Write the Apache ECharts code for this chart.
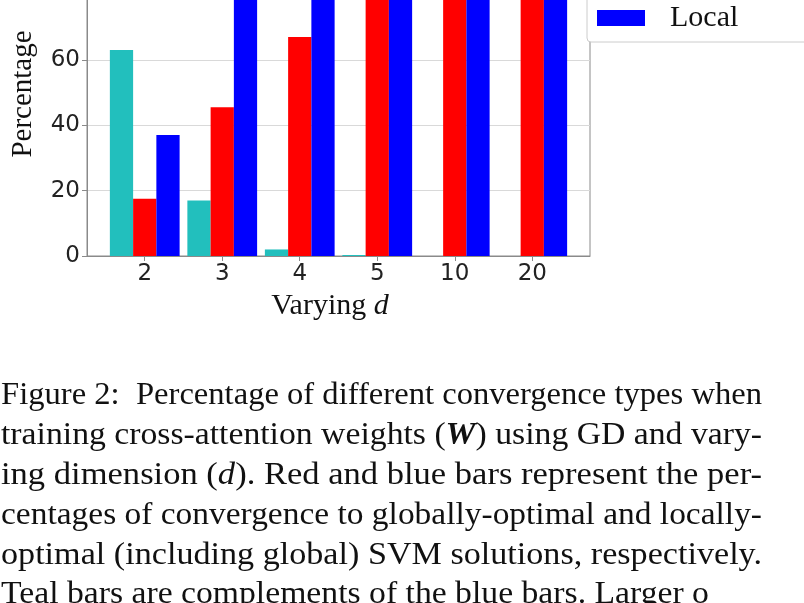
<!DOCTYPE html>
<html>
<head>
<meta charset="utf-8">
<script src="https://cdn.jsdelivr.net/npm/echarts@6/dist/echarts.min.js"></script>
<style>
html,body{margin:0;padding:0;background:#fff;}
#chart{width:804px;height:603px;}
</style>
</head>
<body>
<div id="chart"></div>
<script>
// ---- data ----
const categories = ['2', '3', '4', '5', '10', '20'];
const seriesNames = ['Not Local', 'Global', 'Local'];
const notLocalValues = [63, 17, 2, 0.3, 0, 0];
const globalValues = [17.5, 45.5, 67, 79, 96, 99];
const localValues = [37, 83, 98, 99.7, 100, 100];
const yTicks = [0, 20, 40, 60, 80, 100];
const yAxisTitle = 'Percentage';
const captionLines = [
  'Figure 2:  Percentage of different convergence types when',
  'training cross-attention weights ({b|W}) using GD and vary-',
  'ing dimension ({i|d}). Red and blue bars represent the per-',
  'centages of convergence to globally-optimal and locally-',
  'optimal (including global) SVM solutions, respectively.',
  'Teal bars are complements of the blue bars. Larger o'
];

const colors = ['#22bfbd', '#ff0000', '#0000ff'];
const sans = 'DejaVu Sans';
const serif = 'Liberation Serif';

const chart = echarts.init(document.getElementById('chart'), null, {renderer: 'canvas'});

function toPairs(arr) { return arr.map((v, i) => [i, v]); }
const seriesData = [notLocalValues, globalValues, localValues];

// caption measurement for justified lines
const ctx = document.createElement('canvas').getContext('2d');
const capSize = 32;
function measureLine(line) {
  let w = 0;
  const re = /\{(\w)\|([^}]*)\}/g;
  let last = 0, m;
  const parts = [];
  while ((m = re.exec(line)) !== null) {
    if (m.index > last) parts.push(['n', line.slice(last, m.index)]);
    parts.push([m[1], m[2]]);
    last = re.lastIndex;
  }
  if (last < line.length) parts.push(['n', line.slice(last)]);
  parts.forEach(([k, t]) => {
    const st = k === 'b' ? 'italic bold ' : (k === 'i' ? 'italic ' : '');
    ctx.font = st + capSize + 'px "' + serif + '"';
    w += ctx.measureText(t).width;
  });
  return w;
}
const capTop = 396, capStep = 39.8, capWidth = 761;
const scales = captionLines.map(l => capWidth / measureLine(l));
const avgScale = scales.slice(0, 5).reduce((a, b) => a + b, 0) / 5;
const captionGraphics = captionLines.map((line, i) => ({
  type: 'text',
  x: 1,
  y: capTop + i * capStep,
  scaleX: i < 5 ? scales[i] : avgScale,
  style: {
    text: line,
    x: 0, y: 0,
    fontFamily: serif,
    fontSize: capSize,
    fill: '#111',
    verticalAlign: 'middle',
    align: 'left',
    rich: {
      b: {fontFamily: serif, fontSize: capSize, fontWeight: 'bold', fontStyle: 'italic', fill: '#111'},
      i: {fontFamily: serif, fontSize: capSize, fontStyle: 'italic', fill: '#111'}
    }
  }
}));
captionGraphics.push({
  type: 'text',
  x: 23,
  y: 94,
  rotation: Math.PI / 2,
  style: {
    text: yAxisTitle,
    x: 0, y: 0,
    fontFamily: serif,
    fontSize: 29,
    fill: '#111',
    align: 'center',
    verticalAlign: 'middle'
  }
});

const option = {
  backgroundColor: '#fff',
  animation: false,
  grid: {
    left: 87, right: 214, top: -71, bottom: 347,
    outerBoundsMode: 'none',
    containLabel: false,
    show: true, borderColor: '#8a8a8a', borderWidth: 1, backgroundColor: 'transparent'
  },
  legend: {
    orient: 'vertical',
    left: 587,
    top: -90,
    data: seriesNames,
    itemWidth: 48,
    itemHeight: 16,
    itemGap: 12,
    padding: [9, 80, 9, 10],
    backgroundColor: '#fff',
    borderColor: '#cccccc',
    borderWidth: 1,
    borderRadius: 4,
    icon: 'rect',
    textStyle: {fontFamily: serif, fontSize: 30, color: '#111', padding: [0, 0, 0, 20]},
    z: 10
  },
  xAxis: {
    type: 'value',
    min: -0.745,
    max: 5.745,
    name: 'Varying {i|d}',
    nameLocation: 'middle',
    nameGap: 32,
    nameTextStyle: {
      fontFamily: serif, fontSize: 30, color: '#111',
      padding: [0, 17, 0, 0],
      rich: {i: {fontFamily: serif, fontSize: 30, fontStyle: 'italic', color: '#111'}}
    },
    axisLine: {show: true, onZero: false, lineStyle: {color: '#8a8a8a', width: 1}},
    axisTick: {show: true, length: 5, lineStyle: {color: '#8a8a8a'}, customValues: categories.map((c, i) => i)},
    axisLabel: {
      show: true,
      customValues: categories.map((c, i) => i),
      formatter: v => categories[Math.round(v)],
      fontFamily: sans, fontSize: 23, color: '#222', margin: 7
    },
    splitLine: {show: false}
  },
  yAxis: {
    type: 'value',
    min: 0,
    max: 100,
    interval: 20,
    axisLine: {show: true, onZero: false, lineStyle: {color: '#8a8a8a', width: 1}},
    axisTick: {show: true, length: 5, lineStyle: {color: '#8a8a8a'}},
    axisLabel: {fontFamily: sans, fontSize: 23, color: '#222', margin: 7,
      hideOverlap: false, showMinLabel: true, showMaxLabel: true,
      formatter: v => (yTicks.indexOf(v) >= 0 ? String(v) : '')},
    splitLine: {show: true, lineStyle: {color: '#d9d9d9', width: 1}}
  },
  series: seriesNames.map((name, k) => ({
    name: name,
    type: 'bar',
    data: toPairs(seriesData[k]),
    barWidth: '30%',
    barGap: '0%',
    itemStyle: {color: colors[k]},
    z: 3
  })),
  graphic: captionGraphics
};
chart.setOption(option);
</script>
</body>
</html>
